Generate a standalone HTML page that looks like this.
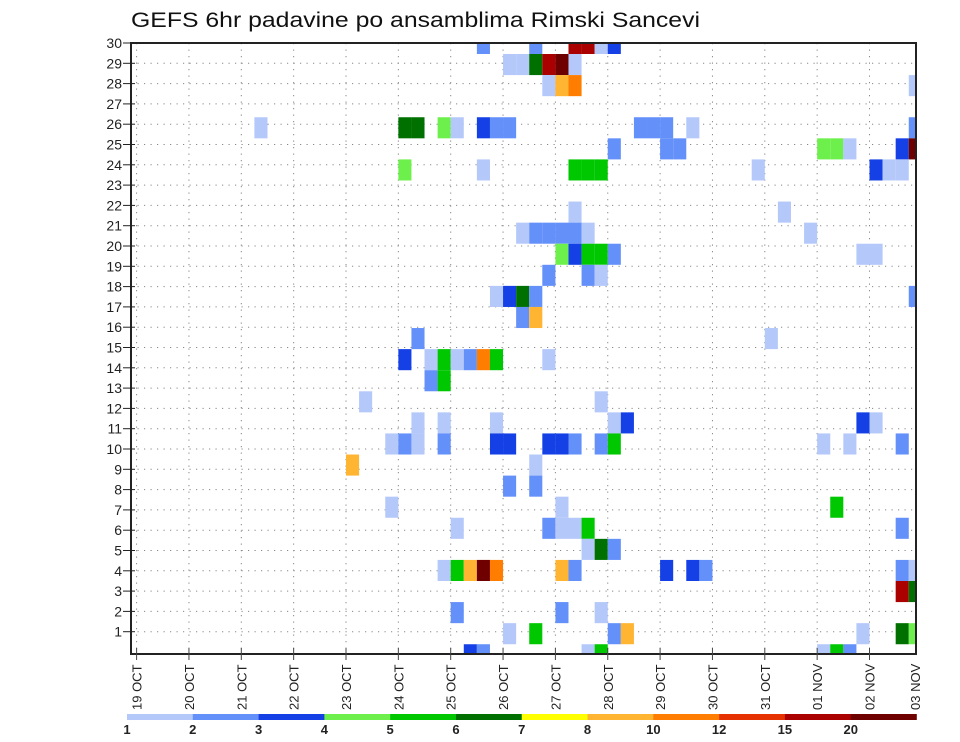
<!DOCTYPE html>
<html><head><meta charset="utf-8">
<style>
html,body{margin:0;padding:0;background:#fff;}
svg{display:block;font-family:"Liberation Sans",sans-serif;}
</style></head>
<body>
<svg id="chart" width="960" height="742" viewBox="0 0 960 742" xmlns="http://www.w3.org/2000/svg">
<rect x="0" y="0" width="960" height="742" fill="#fff"/>
<text x="131" y="27" font-size="21" fill="#111" textLength="569" lengthAdjust="spacingAndGlyphs">GEFS 6hr padavine po ansamblima Rimski Sancevi</text>
<defs><clipPath id="plotclip"><rect x="131" y="43" width="785" height="611"/></clipPath></defs>
<g id="grid"></g>
<g id="cells" clip-path="url(#plotclip)"></g>
<rect x="131" y="43" width="785" height="611" fill="none" stroke="#222" stroke-width="2"/>
<g id="yaxis"></g>
<g id="xaxis"></g>
<g id="legend"></g>
</svg>
<script>
// Data: ensemble member, 6-hour step index (from 19 OCT 00z), precipitation (mm)
const cellMembers = [
30,30,30,30,30,30,
29,29,29,29,29,29,
28,28,28,28,
26,26,26,26,26,26,26,26,26,26,26,26,26,
25,25,25,25,25,25,25,25,
24,24,24,24,24,24,24,24,24,
22,22,
21,21,21,21,21,21,21,
20,20,20,20,20,20,20,
19,19,19,
18,18,18,18,18,
17,17,
16,16,
15,15,15,15,15,15,15,15,
14,14,
13,13,
12,12,12,12,12,12,12,
11,11,11,11,11,11,11,11,11,11,11,11,11,11,
10,10,
9,9,
8,8,8,
7,7,7,7,7,7,
6,6,6,
5,5,5,5,5,5,5,5,5,5,5,5,
4,4,
3,3,3,
2,2,2,2,2,2,2,
1,1,1,1,1,1,1
];
const cellSteps = [
26,30,33,34,35,36,
28,29,30,31,32,33,
31,32,33,59,
9,20,21,23,24,26,27,28,38,39,40,42,59,
36,40,41,52,53,54,58,59,
20,26,33,34,35,47,56,57,58,
33,49,
29,30,31,32,33,34,51,
32,33,34,35,36,55,56,
31,34,35,
27,28,29,30,59,
29,30,
21,48,
20,22,23,24,25,26,27,31,
22,23,
17,35,
21,23,27,36,37,55,56,
19,20,21,23,27,28,31,32,33,35,36,52,54,58,
16,30,
28,30,
19,32,53,
24,31,32,33,34,58,
34,35,36,
23,24,25,26,27,32,33,40,42,43,58,59,
58,59,
24,32,35,
28,30,36,37,55,58,59,
25,26,34,35,52,53,54
];
const cellValues = [
2.5,2.5,17,17,1.5,3.5,
1.5,1.5,6.5,17,22,1.5,
1.5,9,11,1.5,
1.5,6.5,6.5,4.5,1.5,3.5,2.5,2.5,2.5,2.5,2.5,1.5,2.5,
2.5,2.5,2.5,4.5,4.5,1.5,3.5,22,
4.5,1.5,5.5,5.5,5.5,1.5,3.5,1.5,1.5,
1.5,1.5,
1.5,2.5,2.5,2.5,2.5,1.5,1.5,
4.5,3.5,5.5,5.5,2.5,1.5,1.5,
2.5,2.5,1.5,
1.5,3.5,6.5,2.5,2.5,
2.5,9,
2.5,1.5,
3.5,1.5,5.5,1.5,2.5,11,5.5,1.5,
2.5,5.5,
1.5,1.5,
1.5,1.5,1.5,1.5,3.5,3.5,1.5,
1.5,2.5,1.5,2.5,3.5,3.5,3.5,3.5,2.5,2.5,5.5,1.5,1.5,2.5,
9,1.5,
2.5,2.5,
1.5,1.5,5.5,
1.5,2.5,1.5,1.5,5.5,2.5,
1.5,6.5,2.5,
1.5,5.5,9,22,11,9,2.5,3.5,3.5,2.5,2.5,1.5,
17,6.5,
2.5,2.5,1.5,
1.5,5.5,2.5,9,1.5,6.5,4.5,
3.5,2.5,1.5,5.5,1.5,5.5,2.5
];
const levelLabels = ["1","2","3","4","5","6","7","8","10","12","15","20"];
const levelValues = [1,2,3,4,5,6,7,8,10,12,15,20];
const levelColors = ["#b4c8fa","#6490fa","#1440e6","#6ef04c","#00c800","#007000","#ffff00","#ffb432","#ff7d00","#e63200","#aa0000","#6e0000"];
const dayLabels = ["19 OCT","20 OCT","21 OCT","22 OCT","23 OCT","24 OCT","25 OCT","26 OCT","27 OCT","28 OCT","29 OCT","30 OCT","31 OCT","01 NOV","02 NOV"];
const memberTicks = [1,2,3,4,5,6,7,8,9,10,11,12,13,14,15,16,17,18,19,20,21,22,23,24,25,26,27,28,29,30];

const NS = "http://www.w3.org/2000/svg";
const X0 = 136.6, DAY = 52.35, STEP = DAY/4;
const L = 131, T = 43, R = 916, B = 654;
function xStep(i){ return X0 + i*STEP; }
function xDay(d){ return X0 + d*DAY; }
function yTick(k){ return 652 - k*20.3; }
function yCellTop(m){ return 54 + (29 - m)*21.08; }
const CELL_H = 21.08;
function colorFor(v){
  let c = null;
  for (let k=0;k<levelValues.length;k++){ if (v >= levelValues[k]) c = levelColors[k]; }
  return c;
}
function mk(tag, attrs, parent){
  const e = document.createElementNS(NS, tag);
  for (const a in attrs) e.setAttribute(a, attrs[a]);
  parent.appendChild(e);
  return e;
}
const grid = document.getElementById('grid');
for (let d=0; d<dayLabels.length; d++){
  const x = xDay(d);
  const ln = mk('line', {x1:x, y1:T, x2:x, y2:B, stroke:'#888', 'stroke-width':1, 'stroke-dasharray':'1.2,5.3'}, grid);
  
  
}
for (let k=1; k<30; k++){
  const y = yTick(k);
  const ln = mk('line', {x1:L, y1:y, x2:R, y2:y, stroke:'#888', 'stroke-width':1, 'stroke-dasharray':'1.2,5.3'}, grid);
  
  
}
const cells = document.getElementById('cells');
for (let n=0; n<cellMembers.length; n++){
  const r = mk('rect', {x:xStep(cellSteps[n]), y:yCellTop(cellMembers[n]), width:STEP, height:CELL_H, fill:colorFor(cellValues[n])}, cells);
  
  
}
const ya = document.getElementById('yaxis');
for (const k of memberTicks){
  const y = yTick(k);
  const t = mk('line', {x1:123, y1:y, x2:135, y2:y, stroke:'#222', 'stroke-width':1}, ya);
  
  
  const lb = mk('text', {x:122, y:y+5, 'font-size':14, 'text-anchor':'end', fill:'#222'}, ya);
  lb.textContent = String(k);
  
  
}
const xa = document.getElementById('xaxis');
for (let d=0; d<dayLabels.length; d++){
  const x = xDay(d);
  const t = mk('line', {x1:x, y1:B-6, x2:x, y2:B+6, stroke:'#444', 'stroke-width':1}, xa);
  
  
  const lb = mk('text', {x:0, y:0, 'font-size':13, fill:'#222', transform:'translate('+(x+5)+',710) rotate(-90)'}, xa);
  lb.textContent = dayLabels[d];
  
  
}
const last = mk('text', {x:0, y:0, 'font-size':13, fill:'#222', transform:'translate('+(R+4)+',710) rotate(-90)'}, xa);
last.textContent = "03 NOV";


const lg = document.getElementById('legend');
const LX0 = 127, LW = (916.5-127)/levelColors.length;
for (let k=0; k<levelColors.length; k++){
  const r = mk('rect', {x:LX0 + k*LW, y:714, width:LW+0.3, height:6, fill:levelColors[k]}, lg);
  
  
  const lb = mk('text', {x:LX0 + k*LW, y:734, 'font-size':13, 'font-weight':'bold', 'text-anchor':'middle', fill:'#222'}, lg);
  lb.textContent = levelLabels[k];
  
  
}
</script>
</body></html>
